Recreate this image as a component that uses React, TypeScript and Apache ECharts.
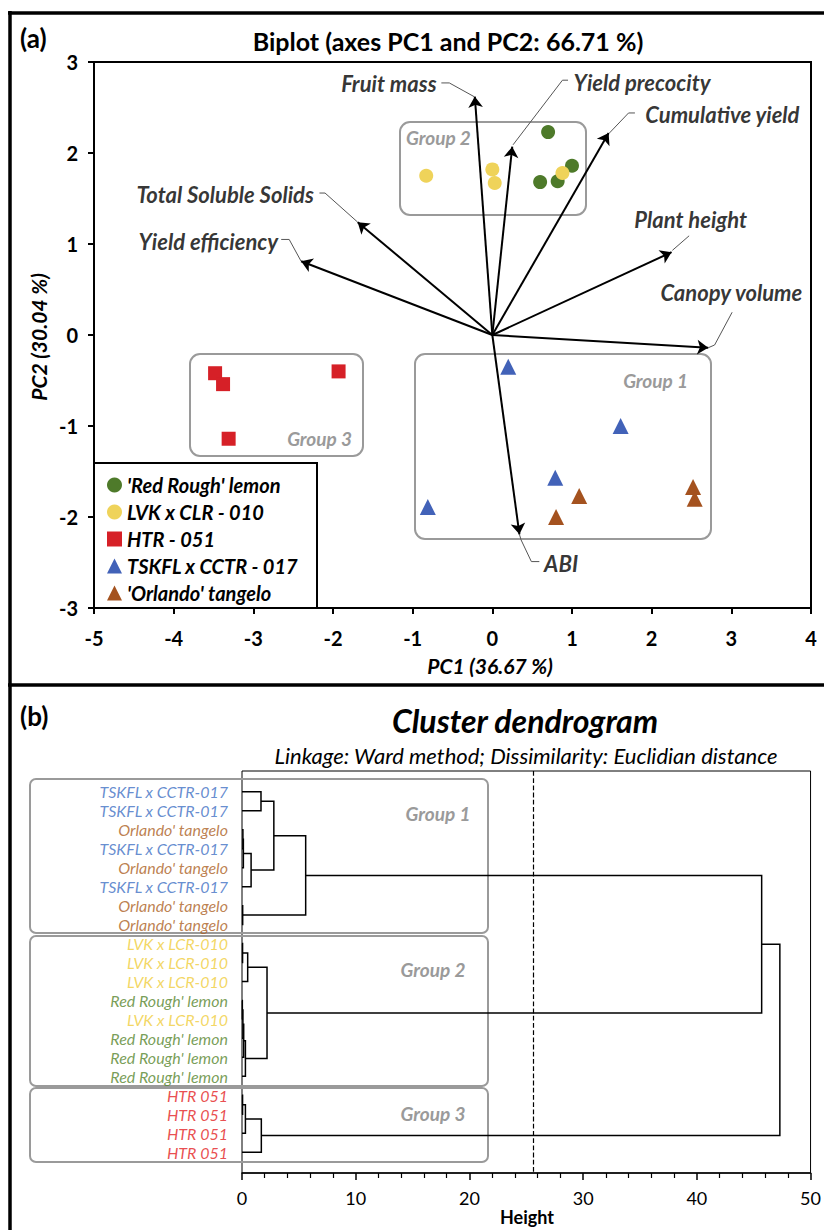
import React, { useEffect, useRef } from "react";
import * as echarts from "echarts";

const FONT = "Lato, 'Noto Sans', sans-serif";

// ---------- Biplot data ----------
const seriesNames = ["'Red Rough' lemon", "LVK x CLR - 010", "HTR - 051", "TSKFL x CCTR - 017", "'Orlando' tangelo"];
const seriesColors = ["#4E7A2A", "#EFD35A", "#D62027", "#4262B8", "#A4521F"];
const seriesSymbols = ["circle", "circle", "rect", "triangle", "triangle"];
const redRough = [[0.70, 2.23], [1.00, 1.86], [0.60, 1.68], [0.82, 1.69]];
const lvkClr = [[-0.83, 1.75], [0.00, 1.82], [0.03, 1.67], [0.88, 1.78]];
const htr = [[-3.48, -0.42], [-3.38, -0.54], [-3.31, -1.14], [-1.93, -0.40]];
const tskfl = [[0.20, -0.35], [1.61, -1.00], [0.79, -1.57], [-0.81, -1.89]];
const orlando = [[1.09, -1.77], [0.80, -2.00], [2.52, -1.67], [2.54, -1.80]];
const seriesData = [redRough, lvkClr, htr, tskfl, orlando];

const loadingNames = ["Fruit mass", "Yield precocity", "Cumulative yield", "Plant height", "Canopy volume", "ABI", "Total Soluble Solids", "Yield efficiency"];
const loadingX = [-0.22, 0.25, 1.46, 2.25, 2.71, 0.34, -1.69, -2.40];
const loadingY = [2.62, 2.07, 2.22, 0.91, -0.14, -2.19, 1.24, 0.81];
// label anchor (data coords) and alignment
const labelPos = [[-0.70, 2.76], [1.02, 2.77], [1.92, 2.42], [2.49, 1.27], [3.0, 0.47], [0.65, -2.51], [-2.24, 1.54], [-2.69, 1.03]];
const labelAlign = ["right", "left", "left", "center", "center", "left", "right", "right"];
const leaders = [
  [[-0.64, 2.77], [-0.54, 2.77], [-0.23, 2.62]],
  [[0.95, 2.80], [0.88, 2.80], [0.26, 2.09]],
  [[1.79, 2.44], [1.71, 2.44], [1.47, 2.22]],
  [[2.47, 1.09], [2.26, 0.93]],
  [[3.01, 0.25], [2.79, -0.11], [2.71, -0.14]],
  [[0.34, -2.19], [0.36, -2.25], [0.49, -2.49], [0.59, -2.49]],
  [[-2.17, 1.56], [-2.10, 1.56], [-1.69, 1.24]],
  [[-2.65, 1.05], [-2.55, 1.05], [-2.40, 0.81]],
];

// ---------- Dendrogram data ----------
const leafNames = [
  "TSKFL x CCTR-017", "TSKFL x CCTR-017", "Orlando' tangelo", "TSKFL x CCTR-017", "Orlando' tangelo",
  "TSKFL x CCTR-017", "Orlando' tangelo", "Orlando' tangelo", "LVK x LCR-010", "LVK x LCR-010",
  "LVK x LCR-010", "Red Rough' lemon", "LVK x LCR-010", "Red Rough' lemon", "Red Rough' lemon",
  "Red Rough' lemon", "HTR 051", "HTR 051", "HTR 051", "HTR 051",
];
const leafColorMap: Record<string, string> = {
  "TSKFL x CCTR-017": "#4070C4",
  "Orlando' tangelo": "#AC5F24",
  "LVK x LCR-010": "#F0CD3C",
  "Red Rough' lemon": "#56852C",
  "HTR 051": "#E31E24",
};
// merges: [nodeA, nodeB, height]; new node ids start at leafNames.length
const merges: [number, number, number][] = [
  [0, 1, 1.67], [2, 3, 0.08], [21, 4, 0.12], [22, 5, 0.8], [20, 23, 2.8], [6, 7, 0.06], [24, 25, 5.6],
  [8, 9, 0.05], [27, 10, 0.5], [11, 12, 0.03], [29, 13, 0.08], [30, 14, 0.15], [31, 15, 0.3], [28, 32, 2.2],
  [16, 17, 0.05], [34, 18, 0.3], [35, 19, 1.7], [26, 33, 45.7], [37, 36, 47.3],
];
const cutHeight = 25.6;
const heightTicks = { min: 0, max: 50, interval: 10 };

function buildDendro() {
  const n = leafNames.length;
  const pos: number[] = [];
  const h: number[] = [];
  for (let i = 0; i < n; i++) { pos.push(i); h.push(0); }
  const segs: any[] = [];
  merges.forEach(([a, b, ht]) => {
    segs.push({ coords: [[h[a], pos[a]], [ht, pos[a]], [ht, pos[b]], [h[b], pos[b]]] });
    pos.push((pos[a] + pos[b]) / 2);
    h.push(ht);
  });
  return segs;
}

export default function App() {
  const ref = useRef<HTMLDivElement>(null);
  useEffect(() => {
    if (!ref.current) return;
    const chart = echarts.init(ref.current, undefined, { renderer: "svg" });

    const scatterSeries = seriesNames.map((name, i) => ({
      type: "scatter",
      name,
      xAxisIndex: 0,
      yAxisIndex: 0,
      symbol: seriesSymbols[i],
      symbolSize: seriesSymbols[i] === "triangle" ? 16 : 14,
      itemStyle: { color: seriesColors[i], opacity: 1 },
      data: seriesData[i],
      z: 4,
    }));

    const arrowSeries = {
      type: "lines",
      coordinateSystem: "cartesian2d",
      xAxisIndex: 0,
      yAxisIndex: 0,
      symbol: ["none", "arrow"],
      symbolSize: 11,
      lineStyle: { color: "#000", width: 2, opacity: 1 },
      data: loadingX.map((x, i) => ({ coords: [[0, 0], [x, loadingY[i]]] })),
      z: 5,
      silent: true,
    };

    const leaderSeries = {
      type: "lines",
      coordinateSystem: "cartesian2d",
      xAxisIndex: 0,
      yAxisIndex: 0,
      polyline: true,
      symbol: "none",
      lineStyle: { color: "#555", width: 1, opacity: 1 },
      data: leaders.map((c) => ({ coords: c })),
      silent: true,
    };

    const labelSeries = {
      type: "scatter",
      xAxisIndex: 0,
      yAxisIndex: 0,
      symbolSize: 0,
      silent: true,
      data: loadingNames.map((name, i) => ({
        name,
        value: labelPos[i],
        label: {
          show: true,
          position: labelAlign[i] === "right" ? "left" : labelAlign[i] === "left" ? "right" : "inside",
          distance: 0,
          formatter: name,
          color: "#000",
          fontSize: 22,
          fontWeight: "bold",
          fontStyle: "italic",
          fontFamily: FONT,
        },
      })),
    };

    const dendroSeries = {
      type: "lines",
      coordinateSystem: "cartesian2d",
      xAxisIndex: 1,
      yAxisIndex: 1,
      polyline: true,
      symbol: "none",
      lineStyle: { color: "#000", width: 1.5, opacity: 1 },
      data: buildDendro(),
      silent: true,
    };

    const leafSeries = {
      type: "scatter",
      xAxisIndex: 1,
      yAxisIndex: 1,
      symbolSize: 0,
      silent: true,
      data: leafNames.map((name, i) => ({
        name,
        value: [0, i],
        label: {
          show: true,
          position: "left",
          distance: 14,
          formatter: name,
          color: leafColorMap[name],
          fontSize: 16,
          fontStyle: "italic",
          fontFamily: FONT,
        },
      })),
      markLine: {
        silent: true,
        symbol: "none",
        label: { show: false },
        lineStyle: { color: "#000", type: "dashed", width: 1.2 },
        data: [{ xAxis: cutHeight }],
      },
    };

    const boxStyle = { stroke: "#9A9A9A", lineWidth: 2, fill: "none" };
    const grpText = (text: string, x: number, y: number, align: string) => ({
      type: "text",
      x,
      y,
      style: {
        text,
        fill: "#9A9A9A",
        font: `italic bold 19px ${FONT}`,
        align,
        verticalAlign: "middle",
      },
    });

    chart.setOption({
      animation: false,
      backgroundColor: "#fff",
      textStyle: { fontFamily: FONT },
      grid: [
        { left: 94, top: 62, width: 717, height: 546, show: true, borderColor: "#000", borderWidth: 2, backgroundColor: "transparent" },
        { left: 242, top: 771, width: 571, height: 402, show: true, borderColor: "#000", borderWidth: 1, backgroundColor: "transparent" },
      ],
      xAxis: [
        {
          gridIndex: 0, type: "value", min: -5, max: 4, interval: 1,
          axisLine: { show: true, onZero: false, lineStyle: { color: "#000", width: 2 } },
          axisTick: { show: true, length: 6, lineStyle: { color: "#000", width: 2 } },
          axisLabel: { color: "#000", fontSize: 20, fontWeight: "bold", margin: 20, fontFamily: FONT },
          splitLine: { show: false },
        },
        {
          gridIndex: 1, type: "value", min: heightTicks.min, max: heightTicks.max, interval: heightTicks.interval,
          axisLine: { show: true, onZero: false, lineStyle: { color: "#000", width: 1.5 } },
          axisTick: { show: true, length: 7, lineStyle: { color: "#000", width: 1.5 } },
          minorTick: { show: true, splitNumber: 5, length: 5, lineStyle: { color: "#000", width: 1.2 } },
          axisLabel: { color: "#000", fontSize: 18, margin: 16, fontFamily: FONT },
          splitLine: { show: false },
        },
      ],
      yAxis: [
        {
          gridIndex: 0, type: "value", min: -3, max: 3, interval: 1,
          axisLine: { show: true, onZero: false, lineStyle: { color: "#000", width: 2 } },
          axisTick: { show: true, length: 6, lineStyle: { color: "#000", width: 2 } },
          axisLabel: { color: "#000", fontSize: 20, fontWeight: "bold", margin: 16, fontFamily: FONT },
          splitLine: { show: false },
        },
        {
          gridIndex: 1, type: "value", inverse: true, min: -1.1, max: 20.1, show: false,
          splitLine: { show: false },
        },
      ],
      legend: {
        data: seriesNames,
        orient: "vertical",
        left: 102,
        top: 470,
        itemWidth: 15,
        itemHeight: 15,
        itemGap: 7,
        textStyle: { color: "#000", fontSize: 20, fontWeight: "bold", fontStyle: "italic", fontFamily: FONT },
        selectedMode: false,
      },
      graphic: [
        // panel borders
        { type: "line", shape: { x1: 8, y1: 13, x2: 824, y2: 13 }, style: { stroke: "#000", lineWidth: 3.5 } },
        { type: "line", shape: { x1: 10, y1: 11, x2: 10, y2: 1230 }, style: { stroke: "#000", lineWidth: 3.5 } },
        { type: "line", shape: { x1: 8, y1: 685, x2: 824, y2: 685 }, style: { stroke: "#000", lineWidth: 3.5 } },
        // panel tags & titles
        { type: "text", x: 20, y: 38, style: { text: "(a)", font: `bold 26px ${FONT}`, fill: "#000", verticalAlign: "middle" } },
        { type: "text", x: 20, y: 716, style: { text: "(b)", font: `bold 26px ${FONT}`, fill: "#000", verticalAlign: "middle" } },
        { type: "text", x: 448, y: 41, style: { text: "Biplot (axes PC1 and PC2: 66.71 %)", font: `bold 25px ${FONT}`, fill: "#000", align: "center", verticalAlign: "middle" } },
        { type: "text", x: 525, y: 720, style: { text: "Cluster dendrogram", font: `italic bold 32px ${FONT}`, fill: "#000", align: "center", verticalAlign: "middle" } },
        { type: "text", x: 526, y: 755, style: { text: "Linkage: Ward method; Dissimilarity: Euclidian distance", font: `italic 22px ${FONT}`, fill: "#000", align: "center", verticalAlign: "middle" } },
        // axis names
        { type: "text", x: 490, y: 665, style: { text: "PC1 (36.67 %)", font: `italic bold 21px ${FONT}`, fill: "#000", align: "center", verticalAlign: "middle" } },
        { type: "text", x: 38, y: 337, rotation: Math.PI / 2, style: { text: "PC2 (30.04 %)", font: `italic bold 21px ${FONT}`, fill: "#000", align: "center", verticalAlign: "middle" } },
        { type: "text", x: 527, y: 1217, style: { text: "Height", font: `bold 18px ${FONT}`, fill: "#000", align: "center", verticalAlign: "middle" } },
        // legend box
        { type: "rect", shape: { x: 94, y: 463, width: 223, height: 145 }, style: { stroke: "#000", lineWidth: 2, fill: "none" }, z: 10 },
        // biplot group boxes
        { type: "rect", shape: { x: 400, y: 122, width: 186, height: 93, r: 10 }, style: boxStyle },
        { type: "rect", shape: { x: 190, y: 354, width: 173, height: 102, r: 10 }, style: boxStyle },
        { type: "rect", shape: { x: 415, y: 354, width: 296, height: 185, r: 10 }, style: boxStyle },
        grpText("Group 2", 406, 137, "left"),
        grpText("Group 3", 352, 438, "right"),
        grpText("Group 1", 688, 380, "right"),
        // dendrogram group boxes
        { type: "rect", shape: { x: 30, y: 779, width: 458, height: 154, r: 6 }, style: boxStyle },
        { type: "rect", shape: { x: 30, y: 936, width: 458, height: 150, r: 6 }, style: boxStyle },
        { type: "rect", shape: { x: 30, y: 1088, width: 458, height: 74, r: 6 }, style: boxStyle },
        grpText("Group 1", 438, 813, "center"),
        grpText("Group 2", 433, 969, "center"),
        grpText("Group 3", 433, 1113, "center"),
      ],
      series: [leaderSeries, arrowSeries, ...scatterSeries, labelSeries, dendroSeries, leafSeries],
    });
    return () => chart.dispose();
  }, []);
  return <div ref={ref} style={{ position: "absolute", left: 0, top: 0, width: 824, height: 1230 }} />;
}
